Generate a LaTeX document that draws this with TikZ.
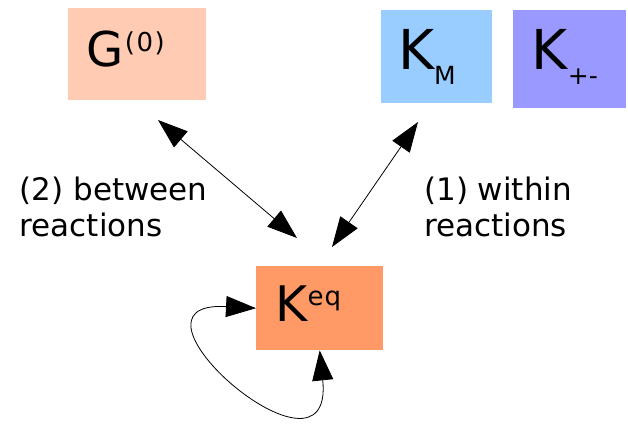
\documentclass[tikz,border=0pt]{standalone}
\usepackage{fontspec}
\setmainfont{DejaVu Sans}
\usetikzlibrary{arrows.meta}
\definecolor{gcol}{HTML}{FFCBB2}
\definecolor{kmcol}{HTML}{99CCFF}
\definecolor{kpmcol}{HTML}{9999FF}
\definecolor{keqcol}{HTML}{FF9966}
\tikzset{
  box/.style={draw=none, inner sep=0pt, anchor=north west},
  lbl/.style={inner sep=0pt, anchor=base west},
  lab/.style={inner sep=0pt, anchor=base west, align=left, font=\fontsize{31}{36.7}\selectfont},
  link/.style={{Triangle[length=30pt,width=21pt]}-{Triangle[length=30pt,width=21pt]}, line width=0.8pt, black},
}
\begin{document}
\begin{tikzpicture}[x=1pt,y=-1pt]
\useasboundingbox (0,0) rectangle (628,425);
% boxes
\node[box, fill=gcol, minimum width=138pt, minimum height=92pt] (g) at (68,8) {};
\node[box, fill=kmcol, minimum width=111pt, minimum height=93pt] (km) at (381,10) {};
\node[box, fill=kpmcol, minimum width=113pt, minimum height=98pt] (kpm) at (513,10) {};
\node[box, fill=keqcol, minimum width=127pt, minimum height=84pt] (keq) at (256,266) {};
% texts
\node[lbl] (gt) at (86.5,66.5) {{\fontsize{48}{48}\selectfont G}\kern1pt\raisebox{15pt}{\fontsize{26}{26}\selectfont (\kern1.5pt0\kern1.5pt)}};
\node[lbl] (kmt) at (397.9,70) {{\fontsize{55}{55}\selectfont K}\raisebox{-15pt}{\fontsize{25}{25}\selectfont M}};
\node[lbl] (kpmt) at (531.7,70) {{\fontsize{55}{55}\selectfont K}\raisebox{-15pt}{\fontsize{25}{25}\selectfont +-}};
\node[lbl] (keqt) at (275.2,321.7) {{\fontsize{49}{49}\selectfont K}\raisebox{16pt}{\fontsize{26}{26}\selectfont e\kern1pt q}};
\node[lab] (l2) at (19.5,236.7) {(2) between\\reactions};
\node[lab] (l1) at (424,236.7) {(1) within\\reactions};
% arrow end points
\coordinate (ga) at (158,120);
\coordinate (gb) at (297,238);
\coordinate (ka) at (418,122);
\coordinate (kb) at (332,247);
\draw[link] (ga) -- (gb);
\draw[link] (ka) -- (kb);
\draw[link] (keq.west) .. controls (105,300) and (335,500) .. (keq.south);
\end{tikzpicture}
\end{document}
